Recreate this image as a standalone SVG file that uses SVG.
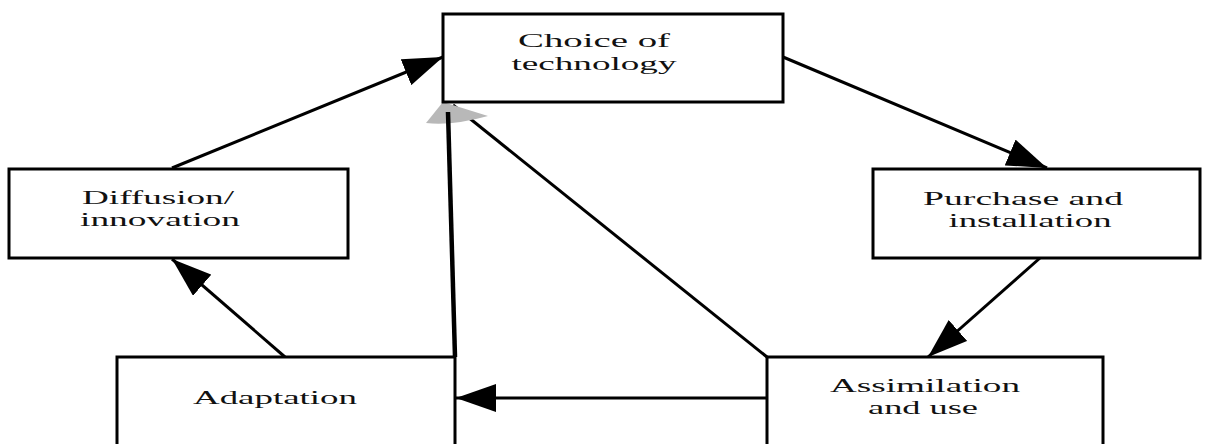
<svg xmlns="http://www.w3.org/2000/svg" width="1206" height="444" viewBox="0 0 1206 444">
<defs>
<style>
.box{fill:#fff;stroke:#000;stroke-width:3}
.lbl{font-family:"Liberation Serif","Times New Roman",serif;font-size:19px;fill:#111;text-anchor:middle}
.conn{stroke:#000;stroke-width:3;fill:none}
</style>
<marker id="ah" markerUnits="userSpaceOnUse" markerWidth="40" markerHeight="28" refX="40" refY="14" orient="auto">
<path d="M0,0 L40,14 L0,28 z" fill="#000"/>
</marker>
</defs>
<rect width="1206" height="444" fill="#fff"/>
<g id="connectors">
<line class="conn" x1="172" y1="168" x2="443" y2="57" marker-end="url(#ah)"/>
<line class="conn" x1="783" y1="57" x2="1047" y2="168" marker-end="url(#ah)"/>
<line class="conn" x1="1040" y1="258" x2="928" y2="357" marker-end="url(#ah)"/>
<line class="conn" x1="767" y1="398" x2="456" y2="398" marker-end="url(#ah)"/>
<line class="conn" x1="285" y1="357" x2="172" y2="259" marker-end="url(#ah)"/>
<line class="conn" x1="767" y1="357" x2="453" y2="105"/>
<path d="M443,102 L426,123 Q452,126 488,116 Z" fill="#b8b8b8"/>
<line class="conn" style="stroke-width:4.5" x1="455" y1="357" x2="448" y2="112"/>
</g>
<g id="choice">
<rect class="box" x="443" y="14" width="340" height="88"/>
<text class="lbl" x="594" y="47" textLength="152" lengthAdjust="spacingAndGlyphs">Choice of</text>
<text class="lbl" x="594" y="70" textLength="165" lengthAdjust="spacingAndGlyphs">technology</text>
</g>
<g id="diffusion">
<rect class="box" x="9" y="169" width="339" height="89"/>
<text class="lbl" x="158" y="204" textLength="152" lengthAdjust="spacingAndGlyphs">Diffusion/</text>
<text class="lbl" x="160" y="226" textLength="160" lengthAdjust="spacingAndGlyphs">innovation</text>
</g>
<g id="purchase">
<rect class="box" x="873" y="169" width="327" height="89"/>
<text class="lbl" x="1023" y="205" textLength="200" lengthAdjust="spacingAndGlyphs">Purchase and</text>
<text class="lbl" x="1030" y="227" textLength="163" lengthAdjust="spacingAndGlyphs">installation</text>
</g>
<g id="adaptation">
<rect class="box" x="117" y="357" width="338" height="100"/>
<text class="lbl" x="275" y="404" textLength="164" lengthAdjust="spacingAndGlyphs">Adaptation</text>
</g>
<g id="assimilation">
<rect class="box" x="767" y="357" width="336" height="100"/>
<text class="lbl" x="925" y="392" textLength="190" lengthAdjust="spacingAndGlyphs">Assimilation</text>
<text class="lbl" x="923" y="414" textLength="110" lengthAdjust="spacingAndGlyphs">and use</text>
</g>
</svg>
